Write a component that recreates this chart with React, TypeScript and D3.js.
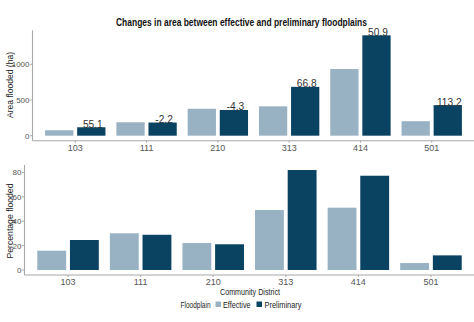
import React from "react";
import * as d3 from "d3";

const districts = ["103", "111", "210", "313", "414", "501"];
const series = ["Effective", "Preliminary"];
const areaEffective = [76, 188, 377, 411, 934, 203];
const areaPreliminary = [118, 184, 360, 684, 1406, 428];
const changeLabels = ["55.1", "-2.2", "-4.3", "66.8", "50.9", "113.2"];
const pctEffective = [15.8, 30.1, 22.1, 49.2, 51.1, 5.7];
const pctPreliminary = [24.6, 28.9, 21.1, 82.0, 77.3, 12.0];
const areaTicks = [0, 500, 1000];
const pctTicks = [0, 20, 40, 60, 80];

const colors: Record<string, string> = { Effective: "#99b2c3", Preliminary: "#0a4262" };
const axisColor = "#a8a8a8";
const tickText = "#555555";
const narrow = "'Liberation Sans Narrow', 'Arial Narrow', 'Liberation Sans', sans-serif";

type PanelProps = {
  left: number; right: number; top: number; bottom: number;
  eff: number[]; pre: number[]; ticks: number[]; yTitle: string;
  yTitleLen: number; yTitleX: number; yTitleCy: number; labels?: string[];
};

function Panel({ left, right, top, bottom, eff, pre, ticks, yTitle, yTitleLen, yTitleX, yTitleCy, labels }: PanelProps) {
  const max = d3.max([...eff, ...pre]) as number;
  const y = d3.scaleLinear().domain([-max * 0.05, max * 1.05]).range([bottom, top]);
  const x = d3.scaleBand<string>().domain(districts).range([left, right]).paddingInner(0.1).paddingOuter(0.15);
  const xs = d3.scaleBand<string>().domain(series).range([0, x.bandwidth()]).padding(0);
  const inset = 1.9;
  return (
    <g>
      {districts.map((d, i) => (
        <g key={d}>
          {series.map((s) => {
            const v = s === "Effective" ? eff[i] : pre[i];
            const x0 = (x(d) as number) + (xs(s) as number) + inset;
            const w = xs.bandwidth() - 2 * inset;
            return <rect key={s} x={x0} y={y(v)} width={w} height={y(0) - y(v)} fill={colors[s]} />;
          })}
          {labels && (
            <text
              x={(x(d) as number) + (xs("Preliminary") as number) + xs.bandwidth() / 2 + 1.5}
              y={y(pre[i]) + 0.5}
              textAnchor="middle"
              fontFamily="'Liberation Sans', Arial, sans-serif"
              fontSize={10.2}
              fill="#333333"
            >
              {labels[i]}
            </text>
          )}
          <text
            x={(x(d) as number) + x.bandwidth() / 2}
            y={bottom + 10}
            textAnchor="middle"
            fontFamily={narrow}
            fontSize={9}
            fill={tickText}
          >
            {d}
          </text>
          <line x1={(x(d) as number) + x.bandwidth() / 2} x2={(x(d) as number) + x.bandwidth() / 2} y1={bottom} y2={bottom + 2} stroke={axisColor} />
        </g>
      ))}
      {ticks.map((t) => (
        <g key={t}>
          <line x1={left - 2.5} x2={left} y1={y(t)} y2={y(t)} stroke={axisColor} />
          <text x={left - 3} y={y(t) + 3} textAnchor="end" fontFamily={narrow} fontSize={8} fill={tickText}>
            {t}
          </text>
        </g>
      ))}
      <line x1={left} x2={left} y1={top} y2={bottom} stroke={axisColor} strokeWidth={1.1} />
      <line x1={left} x2={right} y1={bottom} y2={bottom} stroke={axisColor} strokeWidth={1.1} />
      <text
        transform={`translate(${yTitleX},${yTitleCy}) rotate(-90)`}
        textAnchor="middle"
        fontFamily={narrow}
        fontSize={9.5}
        fill="#222222"
        textLength={yTitleLen}
        lengthAdjust="spacingAndGlyphs"
      >
        {yTitle}
      </text>
    </g>
  );
}

export default function App() {
  return (
    <svg width={474} height={322} style={{ position: "absolute", left: 0, top: 0, background: "#ffffff" }}>
      <rect width={474} height={322} fill="#ffffff" />
      <text
        x={241.5}
        y={25.5}
        textAnchor="middle"
        fontFamily={narrow}
        fontWeight="bold"
        fontSize={10.5}
        fill="#111111"
        textLength={251}
        lengthAdjust="spacingAndGlyphs"
      >
        Changes in area between effective and preliminary floodplains
      </text>
      <Panel
        left={32.5} right={474.5} top={30.3} bottom={140.7}
        eff={areaEffective} pre={areaPreliminary} ticks={areaTicks}
        yTitle="Area flooded (ha)" yTitleLen={66} yTitleX={12.8} yTitleCy={85} labels={changeLabels}
      />
      <Panel
        left={24.5} right={474.5} top={165} bottom={275}
        eff={pctEffective} pre={pctPreliminary} ticks={pctTicks}
        yTitle="Percentage flooded" yTitleLen={75} yTitleX={12.5} yTitleCy={221}
      />
      <text x={250} y={294.5} textAnchor="middle" fontFamily={narrow} fontSize={9.5} fill="#222222" textLength={60} lengthAdjust="spacingAndGlyphs">
        Community District
      </text>
      <text x={180.5} y={307.5} fontFamily={narrow} fontSize={9} fill="#222222" textLength={30} lengthAdjust="spacingAndGlyphs">Floodplain</text>
      <rect x={215.5} y={301.5} width={5.5} height={5.5} fill={colors.Effective} />
      <text x={223} y={307.5} fontFamily={narrow} fontSize={9} fill="#222222" textLength={27.5} lengthAdjust="spacingAndGlyphs">Effective</text>
      <rect x={256.5} y={301.5} width={5.5} height={5.5} fill={colors.Preliminary} />
      <text x={264.5} y={307.5} fontFamily={narrow} fontSize={9} fill="#222222" textLength={37} lengthAdjust="spacingAndGlyphs">Preliminary</text>
    </svg>
  );
}
